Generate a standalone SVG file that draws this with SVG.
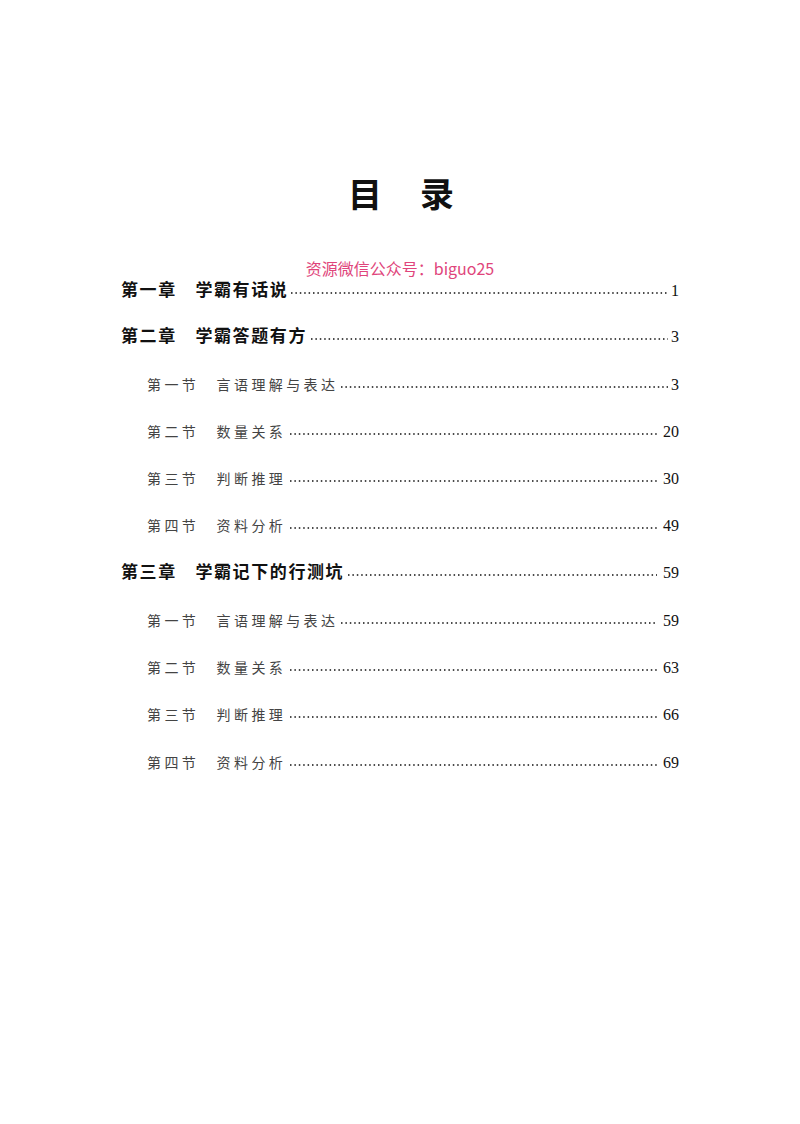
<svg xmlns="http://www.w3.org/2000/svg" width="800" height="1124" viewBox="0 0 800 1124">
<style>
.ch{font-family:"Noto Sans CJK SC",sans-serif;font-size:17px;font-weight:bold;fill:#111;letter-spacing:1.6px}
.sec{font-family:"Noto Sans CJK SC",sans-serif;font-size:14px;fill:#444;letter-spacing:3.4px}
.num{font-family:"Liberation Serif",serif;font-size:16px;fill:#111;text-anchor:end}
.dots{stroke:#111;stroke-width:1.5;stroke-dasharray:1.5 2.9}
</style>
<rect width="800" height="1124" fill="#fff"/>
<g id="title"><text x="365" y="207" font-family="Noto Sans CJK SC,sans-serif" font-size="34" font-weight="bold" text-anchor="middle" fill="#111">目</text><text x="437" y="207" font-family="Noto Sans CJK SC,sans-serif" font-size="34" font-weight="bold" text-anchor="middle" fill="#111">录</text></g>
<text x="400" y="275" font-family="Noto Sans CJK SC,sans-serif" font-size="16" text-anchor="middle" fill="#e0457b">资源微信公众号：biguo25</text>
<g id="connectors">
<line class="dots" x1="291" y1="293" x2="668" y2="293"/>
<line class="dots" x1="311" y1="339" x2="668" y2="339"/>
<line class="dots" x1="341" y1="387" x2="668" y2="387"/>
<line class="dots" x1="290" y1="434" x2="657" y2="434"/>
<line class="dots" x1="290" y1="481" x2="657" y2="481"/>
<line class="dots" x1="290" y1="528" x2="657" y2="528"/>
<line class="dots" x1="348" y1="575" x2="657" y2="575"/>
<line class="dots" x1="341" y1="623" x2="657" y2="623"/>
<line class="dots" x1="290" y1="670" x2="657" y2="670"/>
<line class="dots" x1="290" y1="717" x2="657" y2="717"/>
<line class="dots" x1="290" y1="765" x2="657" y2="765"/>
</g>
<g id="c1"><text class="ch" x="121" y="296">第一章　学霸有话说</text><text class="num" x="679" y="296">1</text></g>
<g id="c2"><text class="ch" x="121" y="342">第二章　学霸答题有方</text><text class="num" x="679" y="342">3</text></g>
<g id="s21"><text class="sec" x="147" y="390">第一节　言语理解与表达</text><text class="num" x="679" y="390">3</text></g>
<g id="s22"><text class="sec" x="147" y="437">第二节　数量关系</text><text class="num" x="679" y="437">20</text></g>
<g id="s23"><text class="sec" x="147" y="484">第三节　判断推理</text><text class="num" x="679" y="484">30</text></g>
<g id="s24"><text class="sec" x="147" y="531">第四节　资料分析</text><text class="num" x="679" y="531">49</text></g>
<g id="c3"><text class="ch" x="121" y="578">第三章　学霸记下的行测坑</text><text class="num" x="679" y="578">59</text></g>
<g id="s31"><text class="sec" x="147" y="626">第一节　言语理解与表达</text><text class="num" x="679" y="626">59</text></g>
<g id="s32"><text class="sec" x="147" y="673">第二节　数量关系</text><text class="num" x="679" y="673">63</text></g>
<g id="s33"><text class="sec" x="147" y="720">第三节　判断推理</text><text class="num" x="679" y="720">66</text></g>
<g id="s34"><text class="sec" x="147" y="768">第四节　资料分析</text><text class="num" x="679" y="768">69</text></g>
</svg>
